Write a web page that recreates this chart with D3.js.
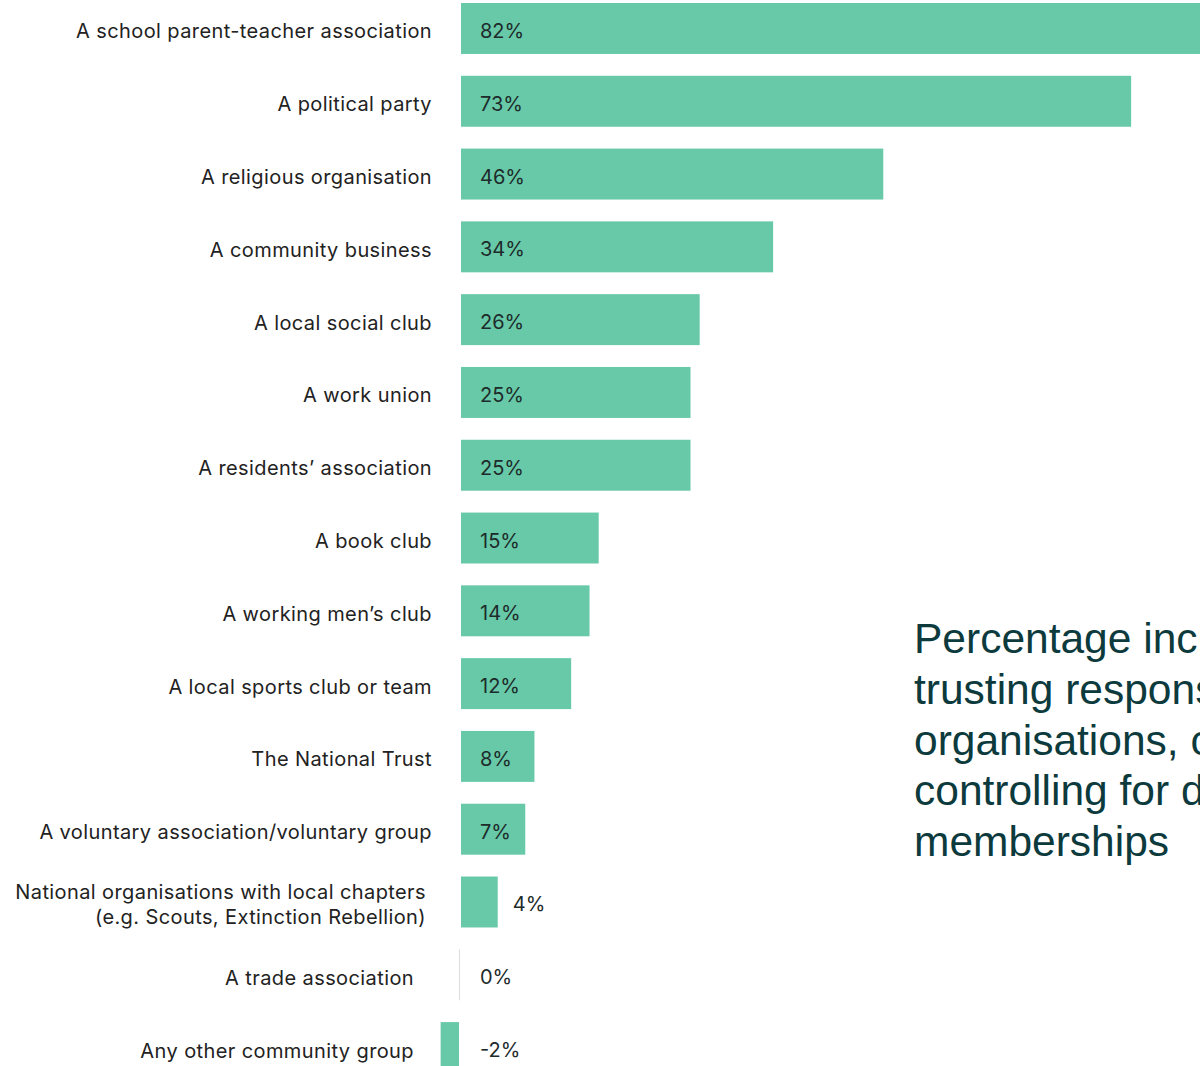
<!DOCTYPE html>
<html>
<head>
<meta charset="utf-8">
<script src="https://cdn.jsdelivr.net/npm/d3@7"></script>
<style>
  html, body { margin: 0; padding: 0; background: #ffffff; }
  svg { display: block; overflow: hidden; }
</style>
</head>
<body>
<div id="chart"></div>
<script>
// Organisation types, top to bottom
const categories = [
  "A school parent-teacher association",
  "A political party",
  "A religious organisation",
  "A community business",
  "A local social club",
  "A work union",
  "A residents\u2019 association",
  "A book club",
  "A working men\u2019s club",
  "A local sports club or team",
  "The National Trust",
  "A voluntary association/voluntary group",
  "National organisations with local chapters\n(e.g. Scouts, Extinction Rebellion)",
  "A trade association",
  "Any other community group"
];

// Percentage increase in trusting responses (%)
const values = [82, 73, 46, 34, 26, 25, 25, 15, 14, 12, 8, 7, 4, 0, -2];

const titleLines = [
  "Percentage increase in",
  "trusting responses from",
  "organisations, compared",
  "controlling for demographics",
  "memberships"
];

// ---- layout ----
const W = 1200, H = 1066;
const zeroX = 461;
const pxPerUnit = 9.18;
const barColor = "#67c9a7";
const labelFont = "Inter, 'Noto Sans', sans-serif";

const svg = d3.select("#chart").append("svg")
  .attr("width", W).attr("height", H);

const x = d3.scaleLinear()
  .domain([0, 82])
  .range([zeroX, zeroX + 82 * pxPerUnit]);

const y = d3.scaleBand()
  .domain(categories)
  .range([3, 3 + 14 * 72.79 + 51])
  .paddingInner(0.3)
  .paddingOuter(0);

// Category labels right edge; the last rows sit a little further left
const labelRight = (d, i) => {
  if (i >= 13) return 414;
  if (i === 12) return 426;
  return 432;
};

// Bars
svg.append("g").selectAll("rect")
  .data(values)
  .join("rect")
  .attr("x", d => d < 0 ? x(d) - 2 : x(0))
  .attr("y", (d, i) => y(categories[i]))
  .attr("width", d => Math.abs(x(d) - x(0)))
  .attr("height", y.bandwidth())
  .attr("fill", barColor);

// Zero-value marker line
svg.append("g").selectAll("line")
  .data(values.map((v, i) => ({ v, i })).filter(d => d.v === 0))
  .join("line")
  .attr("x1", x(0) - 1.5).attr("x2", x(0) - 1.5)
  .attr("y1", d => y(categories[d.i]))
  .attr("y2", d => y(categories[d.i]) + y.bandwidth())
  .attr("stroke", "#dddddd")
  .attr("stroke-width", 1);

// Category labels
const labels = svg.append("g")
  .attr("font-family", labelFont)
  .attr("font-size", 20)
  .attr("letter-spacing", "0.4px")
  .attr("fill", "#222222")
  .attr("text-anchor", "end");

categories.forEach((c, i) => {
  const lines = c.split("\n");
  const cy = y(c) + y.bandwidth() / 2 + 3;
  const t = labels.append("text")
    .attr("x", labelRight(c, i))
    .attr("y", cy);
  const lh = 25;
  lines.forEach((ln, k) => {
    t.append("tspan")
      .attr("x", labelRight(c, i))
      .attr("y", cy + (k - (lines.length - 1) / 2) * lh)
      .attr("dy", "0.35em")
      .text(ln);
  });
});

// Value labels
svg.append("g")
  .attr("font-family", labelFont)
  .attr("font-size", 20)
  .attr("fill", "#1e2b2b")
  .selectAll("text")
  .data(values)
  .join("text")
  .attr("x", d => {
    const w = x(d) - x(0);
    if (d > 0 && w < 50) return x(d) + 15;
    return x(0) + 19;
  })
  .attr("y", (d, i) => y(categories[i]) + y.bandwidth() / 2 + 2.5)
  .attr("dy", "0.35em")
  .text(d => d + "%");

// Title block on the right
const title = svg.append("text")
  .attr("font-family", "'Liberation Sans', Arial, sans-serif")
  .attr("font-size", 42.5)
  .attr("fill", "#0c3a3d")
  .attr("x", 914)
  .attr("y", 653);

titleLines.forEach((ln, k) => {
  title.append("tspan")
    .attr("x", 914)
    .attr("y", 653 + k * 50.8)
    .text(ln);
});
</script>
</body>
</html>
